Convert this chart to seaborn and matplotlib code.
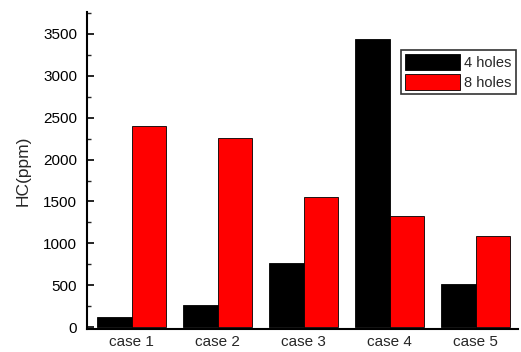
import pandas as pd
import matplotlib
matplotlib.use('Agg')
import matplotlib.pyplot as plt
import seaborn as sns
from matplotlib.ticker import MultipleLocator

cases = ['case 1', 'case 2', 'case 3', 'case 4', 'case 5']
holes_4 = [125, 265, 760, 3440, 520]
holes_8 = [2400, 2260, 1550, 1330, 1090]
series = ['4 holes', '8 holes']

df = pd.DataFrame({
    'case': cases * 2,
    'HC': holes_4 + holes_8,
    'serie': [series[0]] * len(cases) + [series[1]] * len(cases),
})

sns.set_style('ticks')
plt.rcParams['font.family'] = ['Liberation Sans', 'DejaVu Sans']

fig = plt.figure(figsize=(5.21, 3.52), dpi=100)
ax = fig.add_axes([0.167, 0.065, 0.827, 0.901])

sns.barplot(data=df, x='case', y='HC', hue='serie', palette=['black', 'red'],
            width=0.8, edgecolor='black', linewidth=0.6, saturation=1, ax=ax)

ax.set_xlim(-0.52, 4.49)
ax.set_ylim(-24, 3763)
ax.yaxis.set_major_locator(MultipleLocator(500))
ax.yaxis.set_minor_locator(MultipleLocator(250))
ax.tick_params(axis='y', which='major', direction='in', length=5, width=1.2,
               labelsize=11, pad=7, colors='black')
ax.tick_params(axis='y', which='minor', direction='in', length=3, width=1.0)
ax.tick_params(axis='x', length=0, labelsize=11, pad=4)
ax.set_xlabel('')
ax.set_ylabel('HC(ppm)', fontsize=12.5, labelpad=9)
sns.despine(ax=ax)
for s in ['left', 'bottom']:
    ax.spines[s].set_linewidth(1.5)
    ax.spines[s].set_color('black')

leg = ax.legend(loc='upper right', bbox_to_anchor=(0.995, 0.88), fontsize=10.5,
                handlelength=3.8, handleheight=1.25, handletextpad=0.25,
                labelspacing=0.3, borderpad=0.3, borderaxespad=0,
                fancybox=False, frameon=True, title=None)
leg.get_frame().set_edgecolor('black')
leg.get_frame().set_linewidth(1.2)

fig.savefig('out.png', dpi=100)
